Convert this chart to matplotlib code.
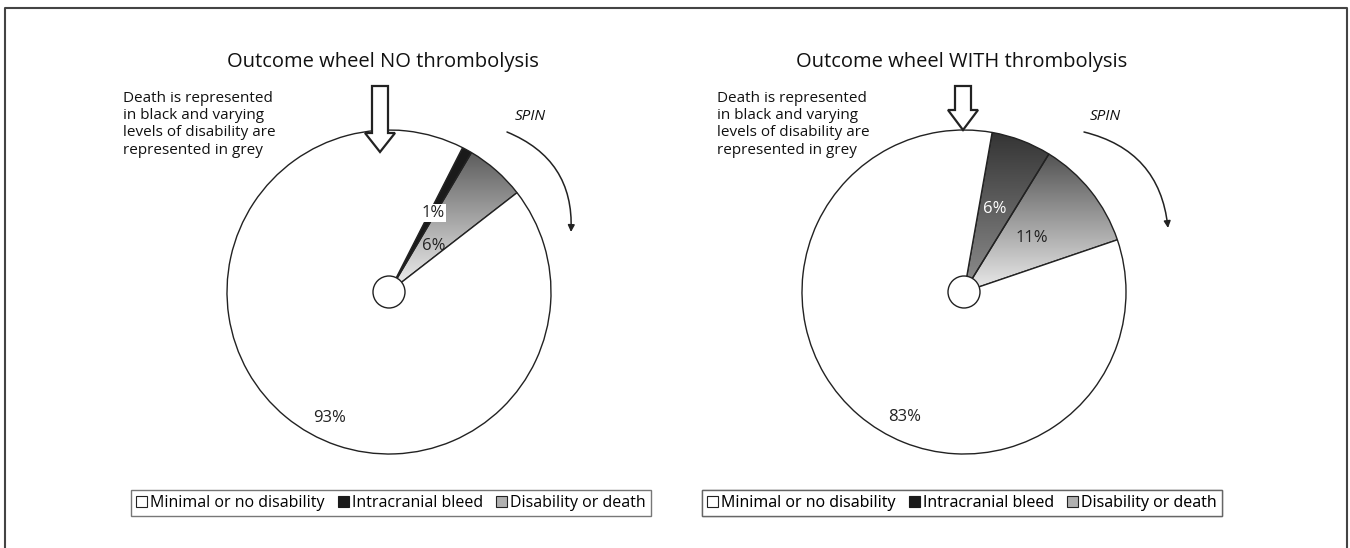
import matplotlib

matplotlib.use("Agg")
import matplotlib.pyplot as plt
import numpy as np
from matplotlib.colors import LinearSegmentedColormap
from matplotlib.patches import Circle, FancyArrowPatch, Patch, Polygon, Wedge

plt.rcParams["font.family"] = ["Open Sans", "DejaVu Sans"]

# data
categories = ["Minimal or no disability", "Intracranial bleed", "Disability or death"]
titles = ["Outcome wheel NO thrombolysis", "Outcome wheel WITH thrombolysis"]
# slices drawn clockwise from the start angle, in this order
no_lysis_labels = ["1%", "6%", "93%"]
no_lysis_values = [1, 6, 93]
with_lysis_labels = ["6%", "11%", "83%"]
with_lysis_values = [6, 11, 83]
note = "Death is represented\nin black and varying\nlevels of disability are\nrepresented in grey"

W, H = 1350, 548
R = 162
HOLE = 16


def grad_wedge(ax, cx, cy, t1, t2, top, bottom, y0, y1):
    w = Wedge((cx, cy), R, t1, t2, facecolor="none", edgecolor="#222222", lw=1.0, zorder=3)
    ax.add_patch(w)
    cmap = LinearSegmentedColormap.from_list("g", [top, bottom])
    img = np.linspace(0, 1, 256).reshape(-1, 1)
    im = ax.imshow(img, cmap=cmap, extent=(cx - R, cx + R, y1, y0), origin="upper",
                   aspect="auto", zorder=2, interpolation="bilinear")
    im.set_clip_path(w)


def wheel(ax, cx, cy, start, values, styles, labels, label_pos, label_kw):
    ang = start
    for v, st in zip(values, styles):
        span = v * 3.6
        t1, t2 = ang - 90, ang + span - 90
        if st[0] == "grad":
            grad_wedge(ax, cx, cy, t1, t2, st[1], st[2], st[3], st[4])
        else:
            ax.add_patch(Wedge((cx, cy), R, t1, t2, facecolor=st[1], edgecolor="#222222",
                               lw=1.0, zorder=3))
        ang += span
    ax.add_patch(Circle((cx, cy), HOLE, facecolor="white", edgecolor="#222222", lw=1.0, zorder=4))
    for lab, pos, kw in zip(labels, label_pos, label_kw):
        ax.text(pos[0], pos[1], lab, ha="center", va="center", fontsize=12, zorder=6, **kw)


def hollow_arrow(ax, x, top, base, tip):
    pts = [(x - 8, top), (x + 8, top), (x + 8, base), (x + 15, base), (x, tip),
           (x - 15, base), (x - 8, base)]
    ax.add_patch(Polygon(pts, closed=True, facecolor="white", edgecolor="#222222", lw=1.6, zorder=5))


fig = plt.figure(figsize=(W / 100, H / 100), dpi=100)
ax = fig.add_axes([0, 0, 1, 1])
ax.set_xlim(0, W)
ax.set_ylim(H, 0)
ax.axis("off")

# outer frame
ax.plot([5, 5, 1347, 1347], [H, 8, 8, H], color="#444444", lw=1.5)

# left wheel
cxl, cy = 389, 292
wheel(ax, cxl, cy, 27, no_lysis_values,
      [("solid", "#1a1a1a"), ("grad", "#4a4a4a", "#f4f4f4", 135, 292), ("solid", "white")],
      no_lysis_labels, [(433, 213), (434, 246), (330, 418)],
      [dict(color="#222222", bbox=dict(facecolor="white", edgecolor="none", pad=1.0)),
       dict(color="#222222"), dict(color="#222222")])
hollow_arrow(ax, 380, 86, 133, 152)

# right wheel
cxr = 964
wheel(ax, cxr, cy, 10, with_lysis_values,
      [("grad", "#333333", "#909090", 130, 292), ("grad", "#444444", "#ececec", 140, 292),
       ("solid", "white")],
      with_lysis_labels, [(995, 209), (1032, 238), (905, 417)],
      [dict(color="white"), dict(color="#222222"), dict(color="#222222")])
hollow_arrow(ax, 963, 86, 110, 130)

ax.text(383, 62, titles[0], ha="center", va="center", fontsize=14.5, color="#111111")
ax.text(962, 62, titles[1], ha="center", va="center", fontsize=14.5, color="#111111")
ax.text(123, 91, note, ha="left", va="top", fontsize=11, color="#111111", linespacing=1.2)
ax.text(717, 91, note, ha="left", va="top", fontsize=11, color="#111111", linespacing=1.2)
ax.text(530, 117, "SPIN", ha="center", va="center", fontsize=11, style="italic", color="#111111")
ax.text(1105, 117, "SPIN", ha="center", va="center", fontsize=11, style="italic", color="#111111")

for p0, p1 in [((507, 132), (571, 232)), ((1084, 132), (1168, 228))]:
    ax.add_patch(FancyArrowPatch(p0, p1, connectionstyle="arc3,rad=-0.35", arrowstyle="-|>",
                                 mutation_scale=10, lw=1.1, color="#222222", zorder=5,
                                 shrinkA=0, shrinkB=0))

# legends
handles = [Patch(facecolor="white", edgecolor="#222222", lw=0.8),
           Patch(facecolor="#1a1a1a", edgecolor="#1a1a1a", lw=0.8),
           Patch(facecolor="#b0b0b0", edgecolor="#222222", lw=0.8)]
for lx in (391, 962):
    leg = ax.legend(handles, categories, ncol=3, loc="center", bbox_to_anchor=(lx, 503),
                    bbox_transform=ax.transData, fontsize=11.5, frameon=True, fancybox=False,
                    edgecolor="#555555", handlelength=0.7, handleheight=0.7, handletextpad=0.2,
                    columnspacing=0.8, borderpad=0.3, borderaxespad=0)
    leg.get_frame().set_linewidth(1.0)
    ax.add_artist(leg)

fig.savefig("out.png", dpi=100, facecolor="white")
